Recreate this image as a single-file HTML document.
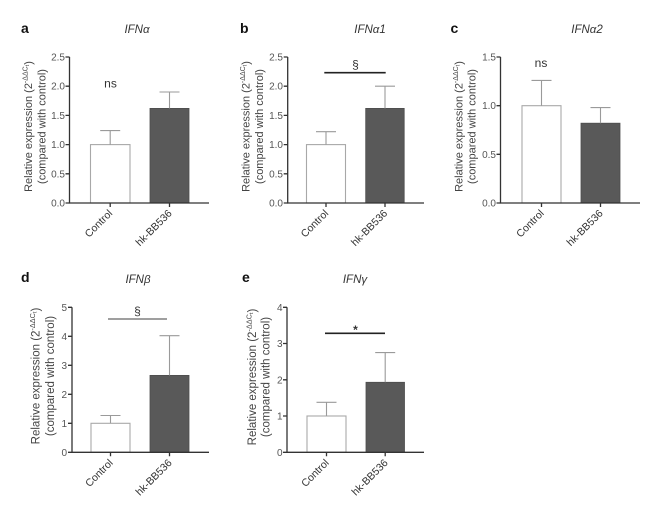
<!DOCTYPE html>
<html>
<head>
<meta charset="utf-8">
<style>
  html,body{margin:0;padding:0;background:#fff;}
  svg{display:block;}
  text{font-family:"Liberation Sans",Arial,sans-serif;}
  .let{font-size:14px;font-weight:bold;fill:#111;}
  .ttl{font-size:11.5px;font-style:italic;fill:#333;}
  .tk{font-size:10px;fill:#555;}
  .yl{font-size:11px;fill:#444;}
  .xl{font-size:10.5px;fill:#333;}
  .ax{stroke:#333;stroke-width:1.3;fill:none;}
  .err{stroke:#9a9a9a;stroke-width:1.1;fill:none;}
  .cbar{fill:#fff;stroke:#a8a8a8;stroke-width:1.1;}
  .hbar{fill:#595959;stroke:#4d4d4d;stroke-width:0.8;}
  .sig{font-size:12px;fill:#333;}
</style>
</head>
<body>
<svg width="650" height="510" viewBox="0 0 650 510" xmlns="http://www.w3.org/2000/svg">

<!-- ================= Panel a ================= -->
<text class="let" x="21" y="33">a</text>
<text class="ttl" x="137" y="33" text-anchor="middle">IFNα</text>
<text class="yl" text-anchor="middle" transform="translate(32,126.5) rotate(-90)">Relative expression (2<tspan font-size="7" dy="-4.5">-ΔΔC</tspan><tspan font-size="5.5" dy="1.5">t</tspan><tspan dy="3">)</tspan></text>
<text class="yl" text-anchor="middle" transform="translate(45.5,126.5) rotate(-90)">(compared with control)</text>
<g class="tk" text-anchor="end">
  <text x="65" y="206.5">0.0</text>
  <text x="65" y="177.3">0.5</text>
  <text x="65" y="148.1">1.0</text>
  <text x="65" y="118.9">1.5</text>
  <text x="65" y="89.7">2.0</text>
  <text x="65" y="60.5">2.5</text>
</g>
<path class="ax" d="M65.5 203H69.5M65.5 173.8H69.5M65.5 144.6H69.5M65.5 115.4H69.5M65.5 86.2H69.5M65.5 57H69.5"/>
<rect class="cbar" x="90.5" y="144.6" width="39.5" height="58.4"/>
<rect class="hbar" x="150" y="108.4" width="39" height="94.6"/>
<path class="err" d="M110.2 144.6V130.6M100.2 130.6H120.2M169.5 108.4V92M159.5 92H179.5"/>
<path class="ax" d="M69.5 57V203H209"/>
<path class="ax" d="M110.2 203V207M169.5 203V207"/>
<text class="xl" text-anchor="end" transform="translate(113,214) rotate(-45)">Control</text>
<text class="xl" text-anchor="end" transform="translate(172.5,214) rotate(-45)">hk-BB536</text>
<text class="sig" x="110.5" y="87.5" text-anchor="middle">ns</text>

<!-- ================= Panel b ================= -->
<text class="let" x="240" y="33">b</text>
<text class="ttl" x="370" y="33" text-anchor="middle">IFNα1</text>
<text class="yl" text-anchor="middle" transform="translate(249.5,126.5) rotate(-90)">Relative expression (2<tspan font-size="7" dy="-4.5">-ΔΔC</tspan><tspan font-size="5.5" dy="1.5">t</tspan><tspan dy="3">)</tspan></text>
<text class="yl" text-anchor="middle" transform="translate(263,126.5) rotate(-90)">(compared with control)</text>
<g class="tk" text-anchor="end">
  <text x="283" y="206.5">0.0</text>
  <text x="283" y="177.3">0.5</text>
  <text x="283" y="148.1">1.0</text>
  <text x="283" y="118.9">1.5</text>
  <text x="283" y="89.7">2.0</text>
  <text x="283" y="60.5">2.5</text>
</g>
<path class="ax" d="M283.7 203H287.7M283.7 173.8H287.7M283.7 144.6H287.7M283.7 115.4H287.7M283.7 86.2H287.7M283.7 57H287.7"/>
<rect class="cbar" x="306.5" y="144.6" width="39" height="58.4"/>
<rect class="hbar" x="365.7" y="108.4" width="38.5" height="94.6"/>
<path class="err" d="M326 144.6V131.7M316 131.7H336M385 108.4V86.2M375 86.2H395"/>
<path class="ax" d="M287.7 57V203H424"/>
<path class="ax" d="M326 203V207M385 203V207"/>
<text class="xl" text-anchor="end" transform="translate(329,214) rotate(-45)">Control</text>
<text class="xl" text-anchor="end" transform="translate(388,214) rotate(-45)">hk-BB536</text>
<path d="M324.3 72.7H385.7" stroke="#222" stroke-width="1.6"/>
<text class="sig" x="355.5" y="68.5" text-anchor="middle" font-size="11">§</text>

<!-- ================= Panel c ================= -->
<text class="let" x="450.5" y="33">c</text>
<text class="ttl" x="587" y="33" text-anchor="middle">IFNα2</text>
<text class="yl" text-anchor="middle" transform="translate(462.3,126.5) rotate(-90)">Relative expression (2<tspan font-size="7" dy="-4.5">-ΔΔC</tspan><tspan font-size="5.5" dy="1.5">t</tspan><tspan dy="3">)</tspan></text>
<text class="yl" text-anchor="middle" transform="translate(475.7,126.5) rotate(-90)">(compared with control)</text>
<g class="tk" text-anchor="end">
  <text x="496" y="206.5">0.0</text>
  <text x="496" y="157.8">0.5</text>
  <text x="496" y="109.2">1.0</text>
  <text x="496" y="60.5">1.5</text>
</g>
<path class="ax" d="M496.5 203H500.5M496.5 154.3H500.5M496.5 105.7H500.5M496.5 57H500.5"/>
<rect class="cbar" x="522" y="105.7" width="39" height="97.3"/>
<rect class="hbar" x="581" y="123.2" width="39" height="79.8"/>
<path class="err" d="M541.5 105.7V80.4M531.5 80.4H551.5M600.5 123.2V107.6M590.5 107.6H610.5"/>
<path class="ax" d="M500.5 57V203H640"/>
<path class="ax" d="M541.5 203V207M600.5 203V207"/>
<text class="xl" text-anchor="end" transform="translate(544.5,214) rotate(-45)">Control</text>
<text class="xl" text-anchor="end" transform="translate(603.5,214) rotate(-45)">hk-BB536</text>
<text class="sig" x="541" y="67" text-anchor="middle">ns</text>

<!-- ================= Panel d ================= -->
<text class="let" x="21" y="282">d</text>
<text class="ttl" x="138" y="283" text-anchor="middle">IFNβ</text>
<text class="yl" text-anchor="middle" transform="translate(39.5,376) rotate(-90)" style="font-size:11.5px">Relative expression (2<tspan font-size="7.3" dy="-4.7">-ΔΔC</tspan><tspan font-size="5.7" dy="1.5">t</tspan><tspan dy="3.2">)</tspan></text>
<text class="yl" text-anchor="middle" transform="translate(54,376) rotate(-90)" style="font-size:11.5px">(compared with control)</text>
<g class="tk" text-anchor="end">
  <text x="67" y="455.8">0</text>
  <text x="67" y="426.8">1</text>
  <text x="67" y="397.8">2</text>
  <text x="67" y="368.8">3</text>
  <text x="67" y="339.8">4</text>
  <text x="67" y="310.8">5</text>
</g>
<path class="ax" d="M68 452.3H72M68 423.3H72M68 394.3H72M68 365.3H72M68 336.3H72M68 307.3H72"/>
<rect class="cbar" x="91" y="423.3" width="39" height="29"/>
<rect class="hbar" x="150" y="375.4" width="39" height="76.9"/>
<path class="err" d="M110.5 423.3V415.5M100.5 415.5H120.5M169.5 375.4V335.7M159.5 335.7H179.5"/>
<path class="ax" d="M72 307.3V452.3H209"/>
<path class="ax" d="M110.5 452.3V456.3M169.5 452.3V456.3"/>
<text class="xl" text-anchor="end" transform="translate(113.5,463.5) rotate(-45)">Control</text>
<text class="xl" text-anchor="end" transform="translate(172.5,463.5) rotate(-45)">hk-BB536</text>
<path d="M108 319H167" stroke="#666" stroke-width="1.2"/>
<text class="sig" x="137.5" y="315" text-anchor="middle" font-size="11" fill="#555">§</text>

<!-- ================= Panel e ================= -->
<text class="let" x="242" y="282">e</text>
<text class="ttl" x="355" y="283" text-anchor="middle">IFNγ</text>
<text class="yl" text-anchor="middle" transform="translate(256,377) rotate(-90)" style="font-size:11.5px">Relative expression (2<tspan font-size="7.3" dy="-4.7">-ΔΔC</tspan><tspan font-size="5.7" dy="1.5">t</tspan><tspan dy="3.2">)</tspan></text>
<text class="yl" text-anchor="middle" transform="translate(269.5,377) rotate(-90)" style="font-size:11.5px">(compared with control)</text>
<g class="tk" text-anchor="end">
  <text x="282.5" y="455.8">0</text>
  <text x="282.5" y="419.5">1</text>
  <text x="282.5" y="383.3">2</text>
  <text x="282.5" y="347">3</text>
  <text x="282.5" y="310.8">4</text>
</g>
<path class="ax" d="M283 452.3H287M283 416H287M283 379.8H287M283 343.5H287M283 307.3H287"/>
<rect class="cbar" x="307" y="416" width="39" height="36.3"/>
<rect class="hbar" x="366" y="382.3" width="38.5" height="70"/>
<path class="err" d="M326.5 416V402.3M316.5 402.3H336.5M385.2 382.3V352.6M375.2 352.6H395.2"/>
<path class="ax" d="M287 307.3V452.3H424"/>
<path class="ax" d="M326.5 452.3V456.3M385.2 452.3V456.3"/>
<text class="xl" text-anchor="end" transform="translate(329.5,463.5) rotate(-45)">Control</text>
<text class="xl" text-anchor="end" transform="translate(388.5,463.5) rotate(-45)">hk-BB536</text>
<path d="M325 333.3H385" stroke="#222" stroke-width="1.6"/>
<text class="sig" x="355.5" y="334" text-anchor="middle" font-weight="bold" font-size="12">*</text>

</svg>
</body>
</html>
